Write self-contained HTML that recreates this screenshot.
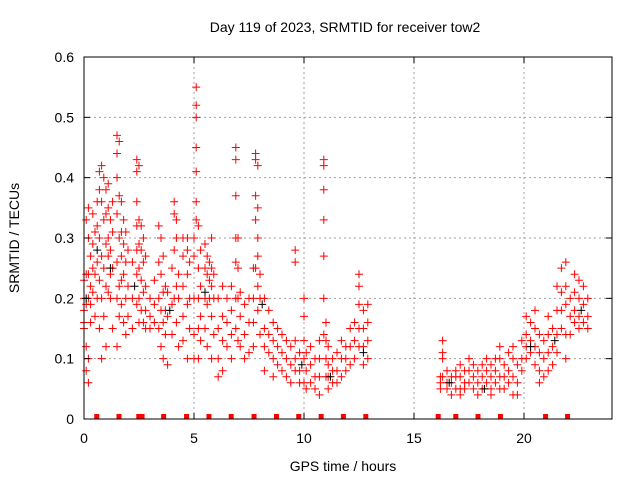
<!DOCTYPE html>
<html><head><meta charset="utf-8"><style>
body{margin:0;background:#fff}
svg{display:block;font-family:"Liberation Sans",sans-serif}
</style></head><body>
<svg id="chart" width="640" height="480" viewBox="0 0 640 480">
<rect width="640" height="480" fill="#fff"/>
<text x="345" y="32" font-size="14" text-anchor="middle">Day 119 of 2023, SRMTID for receiver tow2</text>
<text transform="translate(19,238) rotate(-90)" font-size="14" text-anchor="middle">SRMTID / TECUs</text>
<text x="343" y="471" font-size="14" text-anchor="middle">GPS time / hours</text>
<g id="grid"></g><g id="marks"></g><g id="axes"></g>
</svg>
<script>
const xTicks=[0,5,10,15,20];
const yTicks=[0,0.1,0.2,0.3,0.4,0.5,0.6];
const yTickLabels=["0","0.1","0.2","0.3","0.4","0.5","0.6"];
const times=[0.0,0.1,0.2,0.3,0.4,0.5,0.6,0.7,0.8,0.9,1.0,1.1,1.2,1.3,1.5,1.6,1.7,1.8,1.9,2.0,2.2,2.4,2.5,2.6,2.7,2.8,3.0,3.2,3.4,3.5,3.6,3.7,3.8,4.0,4.1,4.2,4.3,4.5,4.7,4.8,5.0,5.1,5.2,5.3,5.5,5.6,5.7,5.8,5.9,6.1,6.3,6.5,6.7,6.9,7.0,7.1,7.3,7.5,7.7,7.8,7.9,8.0,8.2,8.4,8.6,8.8,9.0,9.2,9.4,9.6,9.8,10.0,10.1,10.3,10.5,10.7,10.9,11.0,11.1,11.3,11.5,11.7,11.9,12.1,12.3,12.5,12.7,12.9,16.2,16.3,16.5,16.7,16.9,17.1,17.3,17.5,17.7,17.9,18.1,18.3,18.5,18.7,18.9,19.1,19.3,19.5,19.7,19.9,20.1,20.3,20.5,20.7,20.9,21.1,21.3,21.5,21.7,21.9,22.1,22.3,22.5,22.7,22.9];
const values=[[.18,.16,.2,.23,.15],[.24,.33,.19,.12,.08],[.35,.3,.24,.2,.1,.06],[.27,.22,.19,.16],[.34,.29,.25,.21],[.31,.24,.17],[.36,.32,.26,.2],[.41,.38,.3,.23,.15],[.42,.36,.27,.2,.1],[.4,.33,.25,.17],[.38,.34,.29,.22,.12],[.39,.35,.3,.27,.21],[.33,.28,.24,.2],[.36,.31,.25,.15],[.47,.44,.4,.34,.26,.2,.12],[.46,.37,.3,.22,.17],[.36,.31,.27,.23,.19],[.33,.29,.24,.16],[.31,.26,.2,.14],[.28,.22,.17],[.26,.2,.15],[.43,.41,.36,.32,.28,.24,.19],[.42,.33,.29,.25,.2,.16],[.32,.28,.23,.18],[.3,.26,.21,.16],[.27,.22,.18,.15],[.2,.17,.15],[.23,.19,.16],[.32,.26,.2,.15],[.3,.24,.18,.12],[.27,.21,.16,.1],[.22,.18,.14],[.21,.17,.09],[.25,.19,.14],[.36,.34,.28,.2],[.33,.3,.22,.16],[.24,.2,.12],[.3,.27,.22,.17,.13],[.3,.28,.24,.19,.1],[.26,.2,.15],[.3,.27,.2,.14,.1],[.55,.52,.5,.45,.41,.36,.33],[.32,.25,.2,.15,.1],[.28,.22,.17,.13],[.29,.25,.2,.15],[.27,.24,.19,.12],[.26,.23,.2],[.3,.25,.22,.17,.1],[.24,.2,.14],[.2,.15,.1,.07],[.22,.17,.13,.08],[.2,.16,.12],[.22,.18,.14,.1],[.45,.43,.37,.3,.26,.2,.15],[.3,.25,.2,.13],[.21,.17,.12],[.19,.14,.1],[.2,.16,.11],[.25,.2,.16,.12],[.44,.43,.37,.33,.25],[.42,.35,.3,.27,.22,.18],[.24,.2,.14],[.2,.15,.12,.08],[.18,.14,.11],[.16,.13,.1,.07],[.15,.12,.09],[.14,.11,.08],[.13,.1,.07],[.12,.09,.06],[.28,.26,.13,.1,.08],[.11,.08,.06],[.2,.17,.13,.1,.06],[.11,.08,.05],[.12,.09,.06],[.1,.07,.05],[.13,.1,.07,.04],[.43,.42,.38,.33,.27,.2,.14],[.16,.13,.1,.07],[.12,.09,.07,.05],[.1,.08,.06],[.11,.08,.06],[.13,.1,.07],[.12,.1,.08],[.15,.12,.09],[.16,.13,.1],[.24,.22,.19,.15,.12],[.18,.15,.12,.09],[.19,.16,.13,.1],[.07,.06,.05],[.13,.11,.1,.07],[.08,.06,.05],[.07,.06,.04],[.08,.07,.05],[.09,.07,.05,.04],[.08,.06,.05],[.1,.08,.06],[.09,.07,.05],[.08,.06,.04],[.09,.07,.05],[.1,.08,.06],[.09,.07,.05,.04],[.1,.08,.06],[.12,.1,.07,.05],[.09,.07,.05],[.11,.08,.06],[.12,.1,.07,.04],[.09,.06,.04],[.13,.1,.08],[.17,.14,.12,.1],[.16,.13,.11],[.18,.15,.12,.09],[.14,.11,.08,.06],[.13,.1,.07],[.17,.14,.11,.08],[.15,.12,.09],[.22,.18,.14,.11],[.25,.21,.18,.15],[.26,.22,.19,.14,.1],[.2,.17,.14],[.24,.21,.18,.16],[.23,.2,.17,.15],[.22,.19,.16],[.2,.17,.15]];
const blackTimes=[0.1,0.6,1.2,2.3,3.9,5.5,8.1,9.9,11.2,12.7,16.6,18.2,20.3,21.4,22.6];
const blackValues=[0.2,0.28,0.25,0.22,0.18,0.21,0.19,0.09,0.07,0.11,0.06,0.05,0.12,0.13,0.18];
const markerTimes=[0.58,1.59,2.49,2.64,3.62,4.66,5.68,6.69,7.73,8.75,9.76,10.78,11.79,12.81,16.10,16.9,17.91,18.93,20.98,21.98];

const NS="http://www.w3.org/2000/svg";
const L=84,R=612,T=57,B=419,XMAX=24,YMAX=0.6;
const xs=v=>L+(R-L)*v/XMAX;
const ys=v=>B-(B-T)*v/YMAX;
function mk(tag,attrs,parent){const e=document.createElementNS(NS,tag);for(const k in attrs)e.setAttribute(k,attrs[k]);parent.appendChild(e);return e;}
const grid=document.getElementById('grid'),marks=document.getElementById('marks'),axes=document.getElementById('axes');
yTicks.forEach((v,i)=>{
  const y=ys(v);
  if(i>0&&i<yTicks.length-1){const g=mk('line',{x1:L,x2:R,y1:y,y2:y,stroke:'#a0a0a0','stroke-dasharray':'2,3'},grid);
  
  }
  mk('line',{x1:L,x2:L+6,y1:y,y2:y,stroke:'#000'},axes);
  mk('line',{x1:R,x2:R-6,y1:y,y2:y,stroke:'#000'},axes);
  const t=mk('text',{x:L-10,y:y+5,'font-size':14,'text-anchor':'end'},axes);
  t.textContent=yTickLabels[i];
  
  
});
xTicks.forEach(v=>{
  const x=xs(v);
  if(v>0){const g=mk('line',{x1:x,x2:x,y1:T,y2:B,stroke:'#a0a0a0','stroke-dasharray':'2,3'},grid);
  
  }
  mk('line',{x1:x,x2:x,y1:B,y2:B-6,stroke:'#000'},axes);
  mk('line',{x1:x,x2:x,y1:T,y2:T+6,stroke:'#000'},axes);
  const t=mk('text',{x:x,y:B+24,'font-size':14,'text-anchor':'middle'},axes);
  t.textContent=String(v);
  
  
});
const frame=mk('rect',{x:L,y:T,width:R-L,height:B-T,fill:'none',stroke:'#000'},axes);


function plus(x,y,c){
  const p=mk('path',{d:`M${x-4},${y}h8M${x},${y-4}v8`,stroke:c,'stroke-width':1,fill:'none'},marks);
  return p;
}
times.forEach((t,i)=>{values[i].forEach(v=>{
  const p=plus(xs(t),ys(v),'#f00');
  
  
});});
blackTimes.forEach((t,i)=>{
  const p=plus(xs(t),ys(blackValues[i]),'#000');
  
  
});
markerTimes.forEach(t=>{
  const r=mk('rect',{x:xs(t)-2.5,y:B-5,width:5,height:5,fill:'#f00'},marks);
  
  
});
</script>
</body></html>
